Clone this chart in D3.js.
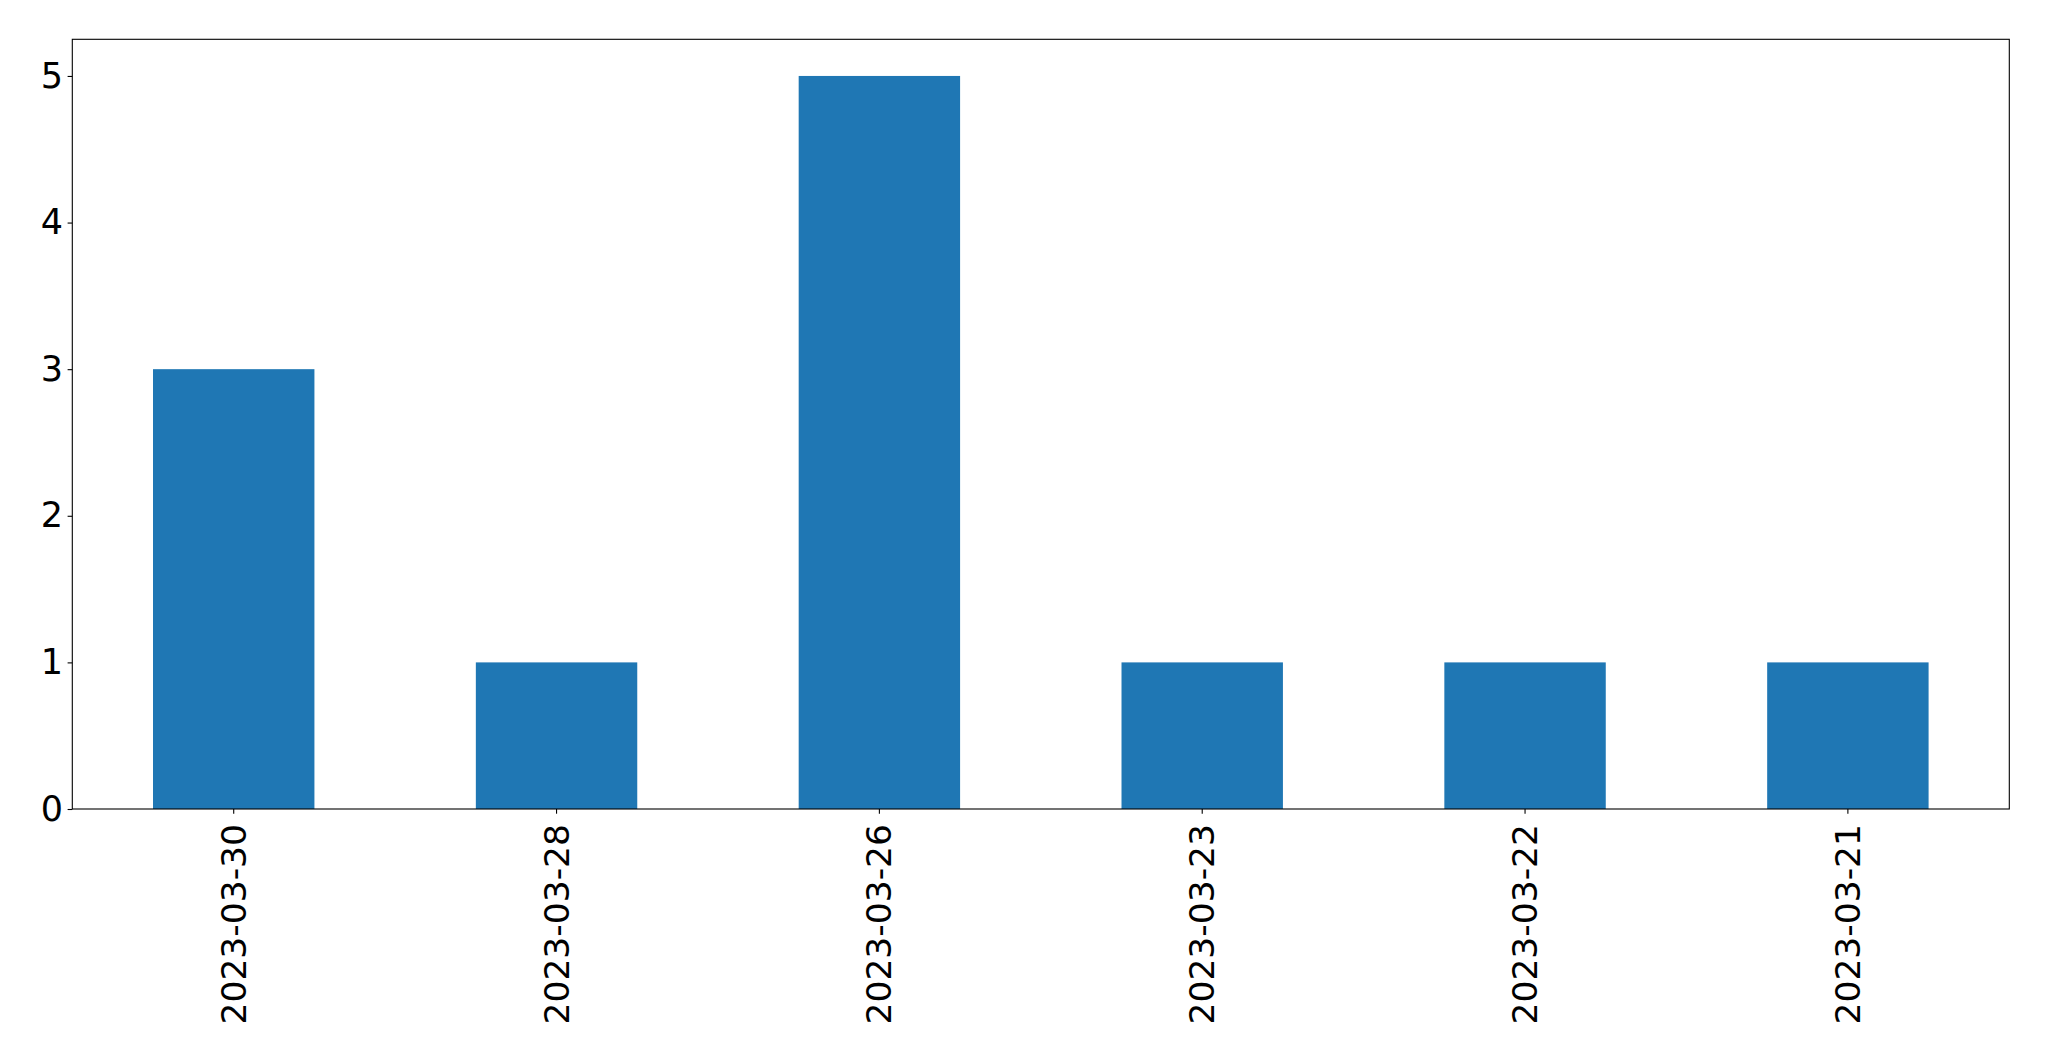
<!DOCTYPE html>
<html><head><meta charset="utf-8">
<script src="https://cdn.jsdelivr.net/npm/d3@7"></script>
<style>body{margin:0;background:#fff;} svg{display:block;}</style>
</head><body>
<script>
const categories = ["2023-03-30","2023-03-28","2023-03-26","2023-03-23","2023-03-22","2023-03-21"];
const values = [3,1,5,1,1,1];
const yTicks = [0,1,2,3,4,5];

const W = 2049, H = 1061;
const m = {left:72.3, right:2049-2009.3, top:39.3, bottom:H-809};
const svg = d3.select("body").append("svg").attr("width",W).attr("height",H);

const x = d3.scaleBand().domain(categories).range([m.left, W-m.right]).paddingInner(0.5).paddingOuter(0.25);
const y = d3.scaleLinear().domain([0,5.25]).range([H-m.bottom, m.top]);

svg.append("g").selectAll("rect").data(values).join("rect")
  .attr("x",(d,i)=>x(categories[i]))
  .attr("width",x.bandwidth())
  .attr("y",d=>y(d))
  .attr("height",d=>y(0)-y(d))
  .attr("fill","#1f77b4");

const font = "DejaVu Sans";
const gy = svg.append("g").attr("transform",`translate(${m.left},0)`)
  .call(d3.axisLeft(y).tickValues(yTicks).tickSize(4.7).tickPadding(4.7).tickFormat(d3.format("d")));
gy.select(".domain").remove();
gy.selectAll("text").attr("font-family",font).attr("font-size",35).attr("fill","#000");
gy.selectAll("line").attr("stroke","#000").attr("stroke-width",1.1);

const gx = svg.append("g").attr("transform",`translate(0,${H-m.bottom})`)
  .call(d3.axisBottom(x).tickSize(4.7).tickPadding(4.7));
gx.select(".domain").remove();
gx.selectAll("line").attr("stroke","#000").attr("stroke-width",1.1);
gx.selectAll("text").attr("font-family",font).attr("font-size",34.5).attr("fill","#000")
  .attr("transform","rotate(-90)").attr("text-anchor","end")
  .attr("x",-15).attr("y",0).attr("dy","0.35em");

svg.append("rect").attr("x",m.left).attr("y",m.top)
  .attr("width",W-m.left-m.right).attr("height",H-m.top-m.bottom)
  .attr("fill","none").attr("stroke","#000").attr("stroke-width",1.1);
</script>
</body></html>
